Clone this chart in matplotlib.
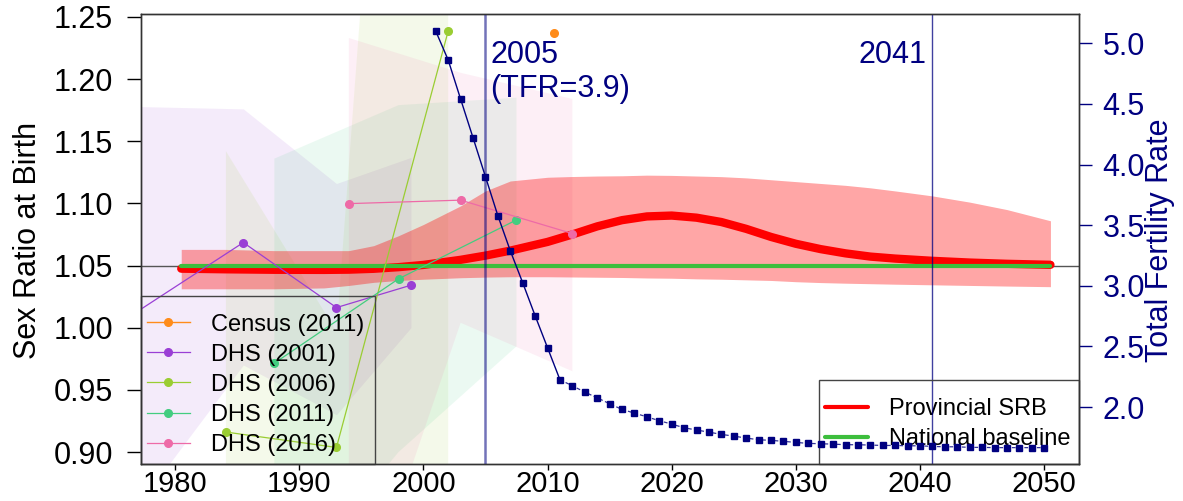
""" Sex ratio at birth: provincial projection, national baseline, survey
estimates with their uncertainty, and total fertility rate on a second axis.
"""
import matplotlib
matplotlib.use('Agg')
import matplotlib.pyplot as plt
from matplotlib.patches import Rectangle

plt.rcParams['font.family'] = ['Liberation Sans', 'DejaVu Sans']

# provincial SRB projection with its interval
srb_years = [1980.5, 1984, 1988, 1992, 1994, 1996, 1998, 2000, 2003, 2005,
             2007, 2010, 2012, 2014, 2016, 2018, 2020, 2022, 2024, 2026,
             2028, 2030, 2032, 2034, 2036, 2038, 2041, 2044, 2047, 2050.5]
srb_mid = [1.0475, 1.0470, 1.0466, 1.0465, 1.0467, 1.0474, 1.0487, 1.0505, 1.0546, 1.0580,
           1.0620, 1.0690, 1.0750, 1.0815, 1.0865, 1.0895, 1.0902, 1.0885, 1.0850, 1.0795,
           1.0730, 1.0675, 1.0632, 1.0598, 1.0572, 1.0556, 1.0538, 1.0524, 1.0514, 1.0506]
srb_upper = [1.063, 1.063, 1.062, 1.062, 1.062, 1.066, 1.074, 1.083, 1.098, 1.110,
             1.118, 1.121, 1.1216, 1.122, 1.1222, 1.1227, 1.1225, 1.122, 1.1215, 1.1205,
             1.119, 1.1175, 1.116, 1.1145, 1.1125, 1.110, 1.106, 1.101, 1.095, 1.086]
srb_lower = [1.0313, 1.0313, 1.0313, 1.032, 1.034, 1.0365, 1.038, 1.039, 1.0402, 1.0407,
             1.041, 1.041, 1.0408, 1.0406, 1.0404, 1.040, 1.0398, 1.0393, 1.039, 1.0385,
             1.038, 1.037, 1.0363, 1.0358, 1.0354, 1.035, 1.0345, 1.034, 1.0335, 1.033]
baseline = 1.05

# survey series: years, srb, lower and upper bounds
surveys = ['Census (2011)', 'DHS (2001)', 'DHS (2006)', 'DHS (2011)', 'DHS (2016)']
survey_colors = ['#FF8C1A', '#9A3FD5', '#9ACD32', '#43CD80', '#EE6AA7']
census_years = [2010.5]
census_srb = [1.2373]
dhs01_years = [1976.5, 1985.5, 1993, 1999]
dhs01_srb = [1.010, 1.0685, 1.0162, 1.0342]
dhs01_lo = [0.85, 0.970, 0.93, 1.000]
dhs01_hi = [1.178, 1.176, 1.116, 1.137]
dhs06_years = [1984.1, 1993, 2002]
dhs06_srb = [0.9161, 0.9037, 1.2387]
dhs06_lo = [0.72, 0.68, 0.80]
dhs06_hi = [1.142, 0.997, 2.2]
dhs11_years = [1988, 1998, 2007.5]
dhs11_srb = [0.9715, 1.0393, 1.0867]
dhs11_lo = [0.78, 0.90, 0.985]
dhs11_hi = [1.136, 1.179, 1.185]
dhs16_years = [1994, 2003, 2012]
dhs16_srb = [1.0998, 1.1026, 1.0757]
dhs16_lo = [0.74, 1.004, 0.965]
dhs16_hi = [1.233, 1.205, 1.184]

# total fertility rate, 2001-2050
tfr_years = list(range(2001, 2051))
tfr = [5.10, 4.862, 4.54, 4.221, 3.90, 3.578, 3.289, 3.025, 2.753, 2.489,
       2.225, 2.175, 2.123, 2.076, 2.027, 1.980, 1.950, 1.919, 1.887, 1.859,
       1.829, 1.810, 1.793, 1.774, 1.760, 1.744, 1.730, 1.725, 1.717, 1.708,
       1.700, 1.697, 1.694, 1.689, 1.689, 1.686, 1.683, 1.683, 1.680, 1.680,
       1.675, 1.672, 1.672, 1.667, 1.667, 1.665, 1.665, 1.665, 1.665, 1.665]
last_obs = 2011
mark_years = [2005, 2041]

# fig config
fsize = 22
fsize_leg = 17
navy = '#000080'
W, H = 1183, 501

fig = plt.figure(figsize=(W/100, H/100), dpi=100)
ax = fig.add_axes([141/W, 1-464/H, (1079-141)/W, (464-14)/H])
ax.set_xlim(1977.26, 2052.8)
ax.set_ylim(0.8904, 1.2523)

# survey uncertainty regions
dhs = [(dhs01_years, dhs01_srb, dhs01_lo, dhs01_hi),
       (dhs06_years, dhs06_srb, dhs06_lo, dhs06_hi),
       (dhs11_years, dhs11_srb, dhs11_lo, dhs11_hi),
       (dhs16_years, dhs16_srb, dhs16_lo, dhs16_hi)]
for (yrs, val, lo, hi), col in zip(dhs, survey_colors[1:]):
    ax.fill_between(yrs, lo, hi, color=col, alpha=0.1, lw=0, zorder=1)

ax.fill_between(srb_years, srb_lower, srb_upper, color='red', alpha=0.35, lw=0, zorder=2)
ax.axhline(baseline, color='#555555', lw=1, zorder=2)
ax.plot(srb_years, srb_mid, color='red', lw=6, solid_capstyle='round', zorder=3,
        label='Provincial SRB')
ax.plot([srb_years[0], srb_years[-1]], [baseline, baseline], color='#3DBE3D', lw=3,
        solid_capstyle='round', zorder=4, label='National baseline')

survey_handles = []
h, = ax.plot(census_years, census_srb, '-o', color=survey_colors[0], ms=5.5, lw=1, zorder=5)
survey_handles.append(h)
for (yrs, val, lo, hi), col in zip(dhs, survey_colors[1:]):
    h, = ax.plot(yrs, val, '-o', color=col, ms=5.5, lw=0.9, zorder=5)
    survey_handles.append(h)

for yr, lw, al in zip(mark_years, [1.8, 1.0], [0.55, 0.75]):
    ax.axvline(yr, color=navy, lw=lw, alpha=al, zorder=6)
ax.text(2005.4, 1.2132, '2005', color=navy, fontsize=fsize, va='baseline', ha='left', zorder=7)
ax.text(2005.4, 1.1859, '(TFR=%.1f)' % tfr[tfr_years.index(2005)], color=navy,
        fontsize=fsize, va='baseline', ha='left', zorder=7)
ax.text(2040.5, 1.2132, '2041', color=navy, fontsize=fsize, va='baseline', ha='right', zorder=7)

# axes styling
ax.set_xticks(range(1980, 2051, 10))
ax.set_yticks([0.90, 0.95, 1.00, 1.05, 1.10, 1.15, 1.20, 1.25])
ax.set_yticklabels(['%.2f' % v for v in ax.get_yticks()])
ax.tick_params(axis='x', labelsize=21, direction='out', length=4, width=1, pad=0)
ax.tick_params(axis='y', labelsize=fsize, direction='out', length=10, width=1, pad=10)
for sp in ax.spines.values():
    sp.set_color('#333333')
    sp.set_linewidth(1)

# legends with plain box outlines
ax.add_patch(Rectangle((0, 0), (375-141)/938, (464-295.7)/450, transform=ax.transAxes,
                       fill=False, ec='#444444', lw=1, zorder=8, clip_on=False))
leg1 = ax.legend(survey_handles, surveys, loc='upper left', bbox_to_anchor=(0.006, 0.334),
                 frameon=False, fontsize=fsize_leg, borderpad=0, borderaxespad=0,
                 handlelength=1.84, handletextpad=0.88, labelspacing=0.34)
ax.add_artist(leg1)
ax.add_patch(Rectangle(((819-141)/938, 0), (1079-819)/938, (464-380)/450, transform=ax.transAxes,
                       fill=False, ec='#444444', lw=1, zorder=8, clip_on=False))
srb_handles = ax.get_lines()[1:3]
leg2 = ax.legend(srb_handles, ['Provincial SRB', 'National baseline'], loc='upper left',
                 bbox_to_anchor=((824.7-141)/938, 0.146), frameon=False, fontsize=fsize_leg,
                 borderpad=0, borderaxespad=0, handlelength=1.84, handletextpad=0.89,
                 labelspacing=0.34)
for ln in leg2.get_lines():
    ln.set_linewidth(3)

# total fertility rate on the right axis
ax2 = ax.twinx()
ax2.set_ylim(1.530, 5.242)
n_obs = tfr_years.index(last_obs) + 1
ax2.plot(tfr_years[:n_obs], tfr[:n_obs], '-', color=navy, lw=1)
ax2.plot(tfr_years[n_obs-1:], tfr[n_obs-1:], color=navy, lw=0.9, ls=(0, (3, 2)), alpha=0.8)
ax2.plot(tfr_years, tfr, 's', color=navy, ms=5, ls='none')
ax2.set_yticks([2.0, 2.5, 3.0, 3.5, 4.0, 4.5, 5.0])
ax2.tick_params(axis='y', labelsize=fsize, colors=navy, direction='out', length=9, width=1, pad=8)
for sp in ax2.spines.values():
    sp.set_color('#333333')
    sp.set_linewidth(1)

fig.text(28/W, 1-240/H, 'Sex Ratio at Birth', rotation=90, fontsize=fsize,
         ha='center', va='center')
fig.text(1160/W, 1-240/H, 'Total Fertility Rate', rotation=90, fontsize=fsize,
         ha='center', va='center', color=navy)

fig.savefig('out.png', dpi=100)
